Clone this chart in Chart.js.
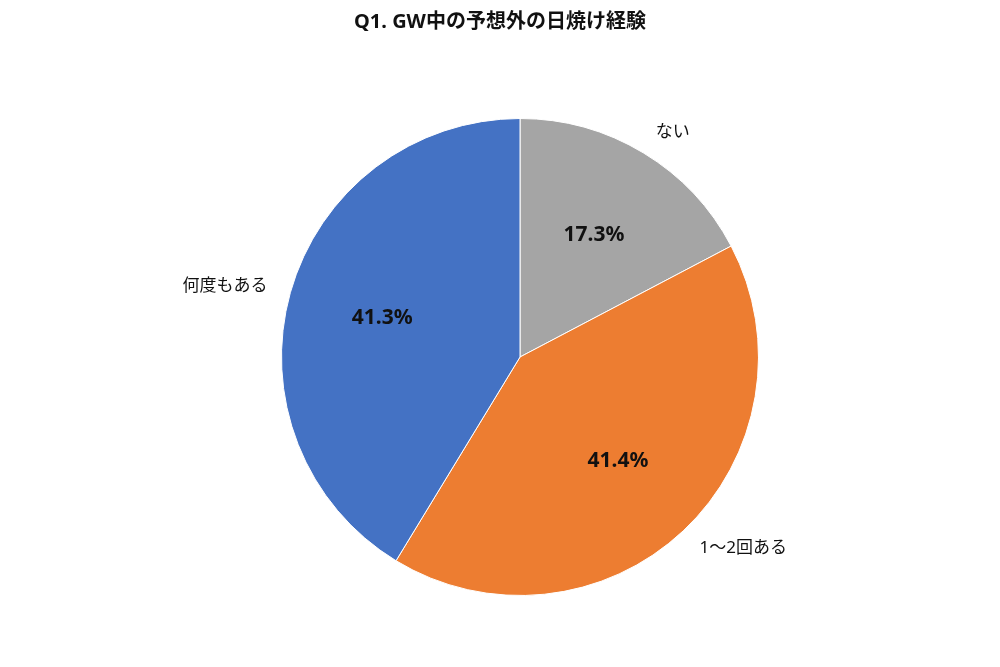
<!DOCTYPE html>
<html>
<head>
<meta charset="utf-8">
<script src="https://cdn.jsdelivr.net/npm/chart.js@4"></script>
<style>
  html, body { margin: 0; padding: 0; background: #fff; }
  #wrap { width: 1000px; height: 667px; position: relative; }
</style>
</head>
<body>
<div id="wrap"><canvas id="pie"></canvas></div>
<script>
const TITLE = "Q1. GW中の予想外の日焼け経験";
const categories = ["ない", "1〜2回ある", "何度もある"];
const values = [17.3, 41.4, 41.3];
const colors = ["#A5A5A5", "#ED7D31", "#4472C4"];

const FONT = '"Noto Sans", "Noto Sans CJK JP", sans-serif';

// draws title, percentages inside and category names outside
const labelPlugin = {
    id: "pieLabels",
    afterDraw(chart){
        const ctx = chart.ctx;
        ctx.save();
        ctx.fillStyle = "#111";
        ctx.textAlign = "center";
        ctx.textBaseline = "middle";
        ctx.font = "bold 20px " + FONT;
        ctx.fillText(TITLE, 500, 22);

        const arcs = chart.getDatasetMeta(0).data;
        arcs.forEach((arc, i) => {
            const p = arc.getProps(["x", "y", "startAngle", "endAngle", "outerRadius"], true);
            const mid = (p.startAngle + p.endAngle) / 2;
            const r = p.outerRadius;

            ctx.font = "bold 21px " + FONT;
            ctx.textAlign = "center";
            ctx.fillStyle = "#111";
            ctx.fillText(values[i].toFixed(1) + "%", p.x + Math.cos(mid) * r * 0.6, p.y + Math.sin(mid) * r * 0.6);

            const lx = p.x + Math.cos(mid) * r * 1.1;
            const ly = p.y + Math.sin(mid) * r * 1.1;
            ctx.font = "17px " + FONT;
            ctx.textAlign = Math.cos(mid) >= 0 ? "left" : "right";
            ctx.fillText(categories[i], lx, ly);
        });
        ctx.restore();
    }
};

new Chart("pie", {
    type: "pie",
    data: {
        labels: categories,
        datasets: [{
            data: values,
            backgroundColor: colors,
            borderColor: "#fff",
            borderWidth: 1
        }]
    },
    options: {
        responsive: true,
        maintainAspectRatio: false,
        animation: false,
        layout: { padding: { left: 281, right: 241, top: 118, bottom: 71 } },
        plugins: {
            legend: { display: false },
            tooltip: { enabled: false }
        }
    },
    plugins: [labelPlugin]
});
</script>
</body>
</html>
